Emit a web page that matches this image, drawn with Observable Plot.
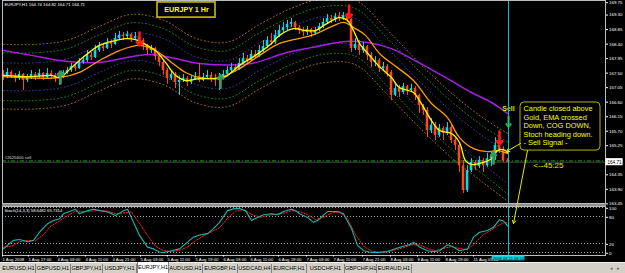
<!DOCTYPE html>
<html>
<head>
<meta charset="utf-8">
<script src="https://cdn.jsdelivr.net/npm/d3@7"></script>
<script src="https://cdn.jsdelivr.net/npm/@observablehq/plot@0.6"></script>
<style>
  html, body { margin:0; padding:0; background:#000; overflow:hidden; }
  #wrap { position:relative; width:625px; height:273px; background:#000; font-family:"Liberation Sans", Arial, sans-serif; }
  #main { position:absolute; left:0; top:0; z-index:3; }
  #sep { position:absolute; left:2px; top:203px; width:604px; height:3px; background:#8f8f8f; z-index:1; }
  #stoch { position:absolute; left:0; top:206px; z-index:2; }
  #tabs { position:absolute; left:0; top:262px; width:625px; height:11px; background:#d4d0c8; border-top:1px solid #f4f4f4; box-sizing:border-box; z-index:1; }
  .tab { position:absolute; top:1px; height:9px; line-height:9px; font-size:5.6px; color:#000; text-align:center; border-right:1px solid #808080; box-sizing:border-box; white-space:nowrap; }
  .tab.active { background:#fff; top:-1px; height:11px; line-height:11px; border-left:1px solid #808080; }
  .nav { position:absolute; top:1px; font-size:5px; line-height:9px; color:#666; }
</style>
</head>
<body>
<div id="wrap">
  <div id="main"></div>
  <div id="sep"></div>
  <div id="stoch"></div>
  <div id="tabs"></div>
</div>
<script>
// ---------- texts ----------
const symbolTitle = "EURJPY,H1 164.74 164.82 164.71 164.71";
const chartLabel = "EURJPY 1 Hr";
const noteText = "Candle closed above\nGold, EMA crossed\nDown, COG DOWN,\nStoch heading down.\n- Sell Signal -";
const timerText = "<--45:25";
const orderText = "#2625600 sell";
const stochText = "Stoch(14,3,3) 58.6482 65.7314";
const cursorTime = "2008.08.11 08:10";
const sellText = "Sell";
const tabNames = ["EURUSD,H1","GBPUSD,H1","GBPJPY,H1","USDJPY,H1","EURJPY,H1","AUDUSD,H1","EURGBP,H1","USDCAD,H4","EURCHF,H1","USDCHF,H1","GBPCHF,H1","EURAUD,H1"];
const activeTab = "EURJPY,H1";

// ---------- axis ticks ----------
const timeTickBars = [-0.25, 6.25, 13.5, 20.5, 27.25, 34.25, 41, 48, 55, 61.75, 68.75, 75.75, 82.5, 89.75, 96.75, 103.5, 110.5, 117.5];
const timeLabels = ["1 Aug 2008","1 Aug 17:00","4 Aug 03:00","4 Aug 11:00","4 Aug 21:00","5 Aug 03:00","5 Aug 11:00","5 Aug 19:00","6 Aug 03:00","6 Aug 11:00","6 Aug 19:00","7 Aug 03:00","7 Aug 11:00","7 Aug 21:00","8 Aug 03:00","8 Aug 11:00","8 Aug 19:00","11 Aug 05:00"];
const priceTicks = [169.75,169.30,168.85,168.40,167.95,167.50,167.05,166.60,166.15,165.70,165.25,164.80,164.35,163.90,163.45];
const stochLevels = [100, 80, 20, 0];

// ---------- candles (H1) ----------
const firstOpen = 167.45;
const closes = [
167.36,167.49,167.40,167.30,167.43,167.24,167.33,167.43,167.36,167.46,
167.33,167.46,167.40,167.30,167.36,167.49,167.55,167.67,167.61,167.80,
167.86,168.02,167.95,168.17,168.29,168.23,168.42,168.36,168.54,168.64,
168.60,168.67,168.54,168.60,168.48,168.33,168.17,168.23,167.98,167.80,
167.55,167.30,167.43,167.18,167.24,167.30,167.18,167.27,167.36,167.24,
167.33,167.40,167.30,167.24,167.33,167.43,167.55,167.64,167.58,167.77,
167.92,167.86,168.05,167.98,168.17,168.29,168.48,168.42,168.64,168.79,
168.88,168.98,169.04,168.88,168.79,168.73,168.82,168.70,168.79,168.91,
169.04,169.16,169.10,169.22,169.16,169.26,169.13,168.23,168.36,168.17,
168.29,168.02,167.80,167.86,167.61,167.67,167.49,166.78,166.99,166.87,
167.05,166.93,166.99,166.78,166.46,166.31,165.69,165.85,165.54,165.75,
165.60,165.78,165.38,165.23,164.60,163.83,164.45,164.70,164.57,164.76,
164.60,164.82,164.88,165.23,165.07,164.74,164.71];
const highs = [
167.55,167.61,167.55,167.46,167.52,167.46,167.43,167.55,167.49,167.58,
167.49,167.61,167.55,167.46,167.49,167.55,167.64,167.77,167.74,167.92,
167.98,168.17,168.11,168.33,168.42,168.39,168.54,168.48,168.70,168.76,
168.73,168.76,168.70,168.73,168.64,168.54,168.36,168.33,168.26,168.02,
167.86,167.61,167.55,167.49,167.36,167.43,167.36,167.40,167.49,167.77,
167.46,167.55,167.49,167.43,167.46,167.55,167.67,167.77,167.74,167.92,
168.08,168.02,168.17,168.17,168.33,168.48,168.60,168.70,168.79,168.95,
169.04,169.10,169.16,169.07,168.95,168.88,168.91,168.85,168.88,169.01,
169.16,169.29,169.26,169.32,169.35,169.35,169.32,169.16,168.54,168.48,
168.42,168.33,168.11,167.98,167.92,167.80,167.74,167.55,167.12,167.09,
167.15,167.09,167.12,167.05,166.82,166.50,166.40,166.06,165.94,165.88,
165.81,165.94,165.85,165.44,165.29,164.76,164.60,164.82,164.76,164.88,
164.82,164.98,165.01,165.47,165.38,165.19,164.82];
const lows = [
167.24,167.30,167.30,167.18,167.24,166.93,167.18,167.27,167.24,167.30,
167.24,167.30,167.27,167.18,167.09,167.30,167.43,167.49,167.52,167.58,
167.74,167.80,167.86,167.92,168.11,168.14,168.20,168.23,168.33,168.48,
168.48,168.54,168.42,168.48,168.33,168.17,168.02,168.08,167.86,167.67,
167.40,167.12,167.24,166.99,166.78,167.18,167.05,167.12,167.24,167.18,
167.21,167.27,167.18,167.05,166.93,167.27,167.36,167.49,167.49,167.55,
167.74,167.77,167.83,167.92,167.95,168.11,168.23,168.33,168.36,168.57,
168.70,168.79,168.88,168.79,168.67,168.60,168.64,168.57,168.64,168.76,
168.85,168.98,169.01,169.04,169.07,169.10,169.04,168.11,168.17,168.02,
168.08,167.86,167.64,167.67,167.49,167.55,167.36,166.62,166.74,166.71,
166.81,166.78,166.87,166.62,166.22,166.16,165.47,165.60,165.38,165.47,
165.38,165.54,165.29,165.07,164.39,163.74,163.77,164.39,164.45,164.51,
164.39,164.55,164.57,164.76,164.98,164.70,164.71];

// ---------- moving averages [bar, price] ----------
const emaFast = [[0,167.40],[7,167.36],[12,167.40],[14,167.33],[17,167.64],[20.5,168.02],[24,168.33],[28,168.48],[30.5,168.54],[33,168.51],[35.5,168.36],[38,168.17],[40.5,167.80],[43,167.40],[45.5,167.24],[49,167.30],[53,167.30],[55.5,167.36],[59,167.71],[63,168.02],[67,168.39],[69,168.64],[72.5,168.85],[75.5,168.79],[78,168.79],[80.5,168.98],[84,169.19],[86,169.10],[87.5,168.79],[89,168.39],[92,167.95],[94,167.67],[97,167.33],[99,167.02],[102.5,166.87],[104,166.62],[107,166.00],[109,165.69],[112,165.60],[114,165.32],[115.5,164.76],[117,164.64],[119,164.67],[122,164.82],[123.5,165.07],[125,165.10],[126,165.01]];
const emaSlow = [[0,167.36],[14,167.33],[19,167.49],[24,167.86],[29,168.17],[34,168.33],[38,168.17],[42,167.80],[45.5,167.49],[49,167.33],[54,167.33],[59,167.61],[64,168.02],[69,168.39],[77,168.64],[82,168.91],[85,169.04],[88,168.85],[90.5,168.64],[94,168.08],[98.5,167.64],[102.5,167.24],[107,166.53],[111,166.09],[114,165.47],[117.5,165.13],[121,165.04],[123.5,165.07],[126,164.98]];
const maSlow = [[0,168.17],[7,168.02],[14,167.86],[24,167.80],[32,167.98],[37,168.05],[43,167.92],[49,167.77],[62,167.77],[70,168.08],[77,168.26],[85.5,168.45],[91,168.42],[97,168.23],[102,167.92],[111,167.30],[117,166.87],[122,166.56],[126,166.22]];

// ---------- COG bands ----------
const cogBars = [0,8,16,24,32,40,48,56,64,72,80,88,96,104,112,120,126];
const cogBrownUp = [168.36,168.36,168.49,168.92,169.29,169.11,168.55,168.43,168.98,169.48,169.79,169.73,168.80,167.78,166.85,166.07,165.60];
const cogGreenUp = [168.10,168.10,168.23,168.66,169.03,168.85,168.29,168.17,168.72,169.22,169.53,169.47,168.54,167.52,166.59,165.81,165.34];
const cogBlueUp  = [167.79,167.79,167.92,168.35,168.72,168.54,167.98,167.86,168.41,168.91,169.22,169.16,168.23,167.21,166.28,165.50,165.03];
const cogBlueDn  = [166.93,166.93,167.06,167.49,167.86,167.68,167.12,167.00,167.55,168.05,168.36,168.30,167.37,166.35,165.42,164.64,164.05];
const cogGreenDn = [166.62,166.62,166.75,167.18,167.55,167.37,166.81,166.69,167.24,167.74,168.05,167.99,167.06,166.04,165.11,164.33,163.72];
const cogBrownDn = [166.36,166.36,166.49,166.92,167.29,167.11,166.55,166.43,166.98,167.48,167.79,167.73,166.80,165.78,164.85,164.07,163.50];

// ---------- stochastic [bar, value] ----------
const stochMain = [[0,8],[1,16],[2.5,27],[4,29],[6,24],[7.5,27],[9,45],[11,64],[12.5,71],[14,75],[15,86],[17,93],[18,96],[19,86],[21,93],[22.5,96],[24,93],[26,90],[28,82],[30,93],[31,96],[32.5,67],[34,38],[36,12],[37.5,8],[39,1],[40,0],[42,4],[44,8],[46,23],[47.5,34],[49,39],[51,42],[52.5,53],[54,67],[56,93],[57.5,97],[59,98],[60.5,93],[62,71],[63.5,78],[65,84],[67,86],[68.5,84],[70,91],[72,96],[73,93],[74,86],[76,78],[77.5,67],[78.5,71],[81,91],[83.5,91],[85,86],[87,53],[88.5,16],[90,4],[92,0],[93.5,0],[96,2],[98.5,10],[100,14],[102,19],[102.5,23],[104,12],[106,4],[107.5,2],[109,4],[111,17],[112.5,12],[114,4],[116,8],[117.5,34],[119,45],[121,49],[122.5,56],[124,73],[125,70],[126,59]];
const stochSignal = [[0,12],[2,14],[4,24],[6,27],[8,26],[10,40],[12,60],[14,70],[16,82],[18,92],[20,91],[22,92],[24,94],[26,92],[28,86],[30,88],[32,90],[34,65],[36,38],[38,14],[40,4],[42,2],[44,5],[46,12],[48,26],[50,37],[52,46],[54,55],[56,76],[58,92],[60,95],[62,85],[64,78],[66,82],[68,85],[70,87],[72,93],[74,91],[76,84],[78,73],[80,78],[82,88],[84,90],[86,75],[88,40],[90,14],[92,3],[94,1],[96,1],[98,6],[100,11],[102,17],[104,17],[106,9],[108,4],[110,9],[112,13],[114,9],[116,6],[118,22],[120,40],[122,50],[124,62],[125,66],[126,66]];

// ---------- signals & levels ----------
const sellArrows = [{bar:34, from:168.73, to:168.33},{bar:86.4, from:169.56, to:169.19},{bar:124, from:165.66, to:165.26}];
const buyArrows  = [{bar:14.25, from:167.15, to:167.52},{bar:54.25, from:167.02, to:167.40},{bar:122.5, from:164.67, to:165.01}];
const sellSignal = [{bar:126.25, from:166.12, to:165.81, labelPrice:166.37}];
const orderPrice = 164.75;
const bidPrice = 164.71;
const cursorBar = 126.25;

// annotation anchors (bar, price)
const labelBox = {b1:38.5, b2:53, p1:169.19, p2:169.66, b:45.75, p:169.42};
const noteBox = {b1:129.25, b2:149.25, p1:165.07, p2:166.56, tb:130, tp:166.47};
const noteArrows = [{b1:129.25, p1:165.29, b2:125.75, p2:165.04},{b1:131, p1:165.07, b2:127.5, p2:162.81}];
const timerPos = {b:132.5, p:164.60};

// ---------- build ----------
const bars = closes.map((c, i) => ({i, open: i ? closes[i-1] : firstOpen, high: highs[i], low: lows[i], close: c}));
const bull = "#00dce8", bear = "#ff4812";
const candleColor = d => d.close >= d.open ? bull : bear;
const xDomain = [-0.25, 150.5];
const yDomain = [163.43, 169.72];
const font = "Liberation Sans, Arial, sans-serif";
const bands = [
  {v: cogBrownUp, c: "#9a7420"}, {v: cogGreenUp, c: "#1c851c"}, {v: cogBlueUp, c: "#2a3fa4"},
  {v: cogBlueDn, c: "#2a3fa4"}, {v: cogGreenDn, c: "#1c851c"}, {v: cogBrownDn, c: "#9a7420"}
];
const lastClose = closes[closes.length - 1];
const ticksInside = priceTicks.filter(t => t <= yDomain[1]);
const ticksEdge = priceTicks.filter(t => t > yDomain[1]);

const main = Plot.plot({
  width: 625, height: 203,
  marginLeft: 2, marginRight: 20, marginTop: 0, marginBottom: 0,
  style: {background: "#000", color: "#fff", overflow: "visible", fontFamily: font},
  color: {type: "identity"},
  x: {domain: xDomain, axis: null},
  y: {domain: yDomain, axis: null},
  marks: [
    ...bands.map(b => Plot.line(cogBars.map((bar, k) => [bar, b.v[k]]), {stroke: b.c, strokeWidth: 1, strokeDasharray: "1,2.6", curve: "catmull-rom"})),
    Plot.line(maSlow, {stroke: "#a41ee6", strokeWidth: 1.5, curve: "catmull-rom"}),
    Plot.ruleY([bidPrice], {stroke: "#4a4a4a", strokeWidth: 1}),
    Plot.ruleY([orderPrice], {stroke: "#10a010", strokeWidth: 1, strokeDasharray: "4,2,1,2"}),
    Plot.text([orderText], {frameAnchor: "left", y: orderPrice, dx: 2, dy: -3, textAnchor: "start", fontSize: 4.3, fill: "#dddddd"}),
    Plot.ruleX(bars, {x: "i", y1: "low", y2: "high", stroke: candleColor, strokeWidth: 1}),
    Plot.rect(bars, {x1: d => d.i - 0.32, x2: d => d.i + 0.32, y1: "open", y2: "close", fill: candleColor}),
    Plot.line(emaSlow, {stroke: "#ff9c00", strokeWidth: 1.3, curve: "catmull-rom"}),
    Plot.line(emaFast, {stroke: "#ffff00", strokeWidth: 1.3, curve: "catmull-rom"}),
    Plot.arrow(sellArrows, {x1: "bar", x2: "bar", y1: "from", y2: "to", stroke: "#ff1a1a", strokeWidth: 2.6, headLength: 5, headAngle: 80}),
    Plot.arrow(buyArrows, {x1: "bar", x2: "bar", y1: "from", y2: "to", stroke: "#3a9a5e", strokeWidth: 2.6, headLength: 5, headAngle: 80}),
    Plot.arrow(sellSignal, {x1: "bar", x2: "bar", y1: "from", y2: "to", stroke: "#22aa33", strokeWidth: 2.2, headLength: 4, headAngle: 80}),
    Plot.text(sellSignal, {x: "bar", y: "labelPrice", text: () => sellText, fill: "#d8d84a", fontSize: 7, fontWeight: "bold"}),
    Plot.ruleX([cursorBar], {stroke: "#14bccb", strokeWidth: 1}),
    Plot.rect([labelBox], {x1: "b1", x2: "b2", y1: "p1", y2: "p2", fill: "#000", stroke: "#c8c000", strokeWidth: 1.6}),
    Plot.text([labelBox], {x: "b", y: "p", text: () => chartLabel, fill: "#ffff00", fontSize: 7.2, fontWeight: "bold"}),
    Plot.rect([noteBox], {x1: "b1", x2: "b2", y1: "p1", y2: "p2", fill: "#000", stroke: "#b0b000", strokeWidth: 1, rx: 4}),
    Plot.text([noteBox], {x: "tb", y: "tp", text: () => noteText, textAnchor: "start", lineAnchor: "top", lineHeight: 1.14, fill: "#ffff00", fontSize: 7.4}),
    Plot.arrow(noteArrows, {x1: "b1", y1: "p1", x2: "b2", y2: "p2", stroke: "#e8e800", strokeWidth: 1, headLength: 5}),
    Plot.text([timerPos], {x: "b", y: "p", text: () => timerText, textAnchor: "start", fill: "#e8e800", fontSize: 8}),
    Plot.text([symbolTitle], {frameAnchor: "top-left", dx: 2, dy: 2, textAnchor: "start", lineAnchor: "top", fontSize: 4.3, fill: "#ffffff"}),
    Plot.frame({stroke: "#bdbdbd"}),
    Plot.axisY({anchor: "right", ticks: ticksInside, tickFormat: d => d.toFixed(2), fontSize: 4.4, tickSize: 2, tickPadding: 1.5, dy: 1}),
    Plot.axisY({anchor: "right", ticks: ticksEdge, tickFormat: d => d.toFixed(2), fontSize: 4.4, tickSize: 2, tickPadding: 1.5, dy: 3.2}),
    Plot.rect([lastClose], {x1: xDomain[1] + 0.1, x2: xDomain[1] + 4.4, y1: d => d - 0.11, y2: d => d + 0.11, fill: "#ffffff"}),
    Plot.text([lastClose], {x: xDomain[1] + 2.25, y: d => d, text: d => d.toFixed(2), fill: "#000", fontSize: 4.6})
  ]
});
document.getElementById("main").appendChild(main);

const stoch = Plot.plot({
  width: 625, height: 56,
  marginLeft: 2, marginRight: 20, marginTop: 0, marginBottom: 7,
  style: {background: "#000", color: "#fff", overflow: "visible", fontFamily: font},
  x: {domain: xDomain, axis: null},
  y: {domain: [-6.67, 102.22], axis: null},
  marks: [
    Plot.ruleY(stochLevels, {stroke: "#a8a8a8", strokeDasharray: "1,2"}),
    Plot.line(stochSignal, {stroke: "#ff2020", strokeWidth: 1, strokeDasharray: "1.5,1.5"}),
    Plot.line(stochMain, {stroke: "#22b4ae", strokeWidth: 1.1}),
    Plot.ruleX([cursorBar], {stroke: "#14bccb", strokeWidth: 1}),
    Plot.text([stochText], {frameAnchor: "top-left", dx: 2, dy: 2.5, textAnchor: "start", lineAnchor: "top", fontSize: 4.2, fill: "#ffffff"}),
    Plot.frame({stroke: "#bdbdbd"}),
    Plot.axisY({anchor: "right", ticks: stochLevels, tickFormat: d => String(d), fontSize: 4.4, tickSize: 2, tickPadding: 1.5, dy: 0.8}),
    Plot.axisX({anchor: "bottom", ticks: timeTickBars, tickFormat: d => timeLabels[timeTickBars.indexOf(d)], textAnchor: "start", fontSize: 4.3, tickSize: 1.5, tickPadding: 0.5}),
    Plot.rect([cursorBar], {x1: d => d - 4.1, x2: d => d + 4.1, y1: -7.9, y2: -18.5, fill: "#10d4e4"}),
    Plot.text([cursorBar], {x: d => d, y: -13.2, text: () => cursorTime, fill: "#000", fontSize: 4.1})
  ]
});
document.getElementById("stoch").appendChild(stoch);

// tab bar
const tabWidths = [34, 35, 32, 34, 32, 34, 35, 34, 35, 38, 32, 35];
const tabs = document.getElementById("tabs");
let left = 2;
tabNames.forEach((name, k) => {
  const s = document.createElement("span");
  s.className = "tab" + (name === activeTab ? " active" : "");
  s.style.left = left + "px";
  s.style.width = tabWidths[k] + "px";
  s.textContent = name;
  tabs.appendChild(s);
  left += tabWidths[k];
});
["\u25C2", "\u25B8"].forEach((g, k) => {
  const s = document.createElement("span");
  s.className = "nav";
  s.style.left = (610 + k * 7) + "px";
  s.textContent = g;
  tabs.appendChild(s);
});
</script>
</body>
</html>
